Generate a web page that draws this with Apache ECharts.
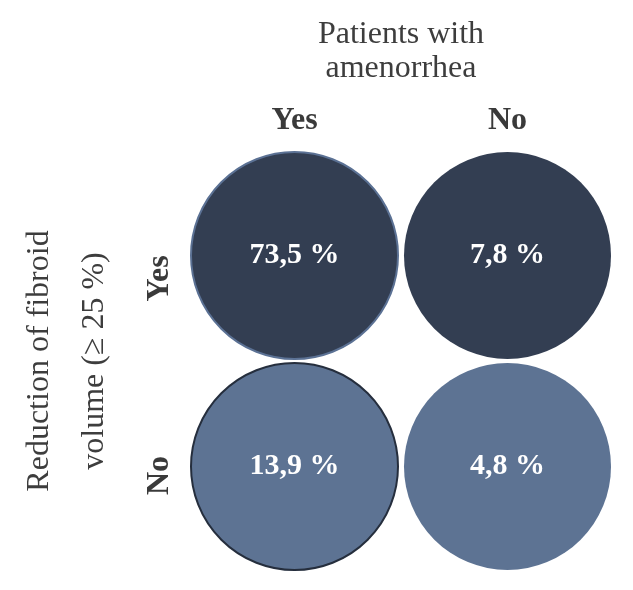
<!DOCTYPE html>
<html>
<head>
<meta charset="utf-8">
<script src="https://cdn.jsdelivr.net/npm/echarts@6/dist/echarts.min.js"></script>
<style>
  html, body { margin: 0; padding: 0; background: #fff; }
</style>
</head>
<body>
<!-- chart container -->
<div id="main" style="width: 633px; height: 590px;"></div>
<script>
// amenorrhea (columns) x fibroid volume reduction (rows)
var amenorrhea = ['Yes', 'No']
var reduction = ['Yes', 'No']
var shares = [
  [73.5, 7.8],
  [13.9, 4.8]
]
var rowColors = ['#333e52', '#5d7393']

var serif = '"Liberation Serif", "DejaVu Serif", serif'

var points = []
for (var r = 0; r < reduction.length; r++) {
  for (var c = 0; c < amenorrhea.length; c++) {
    var item = {
      value: [amenorrhea[c], reduction[r], shares[r][c]],
      itemStyle: { color: rowColors[r], opacity: 1 }
    }
    // the two left circles have an outline in the reference
    if (r === 0 && c === 0) {
      item.itemStyle.borderColor = '#5b7194'
      item.itemStyle.borderWidth = 2
    }
    if (r === 1 && c === 0) {
      item.itemStyle.borderColor = '#252e3d'
      item.itemStyle.borderWidth = 2
    }
    points.push(item)
  }
}

var rowLabel = { fontFamily: serif, fontSize: 32, fontWeight: 'bold', color: '#3a3a3a' }

var option = {
  animation: false,
  grid: { left: 188, top: 150, width: 426, height: 422, containLabel: false, outerBoundsMode: 'none' },
  xAxis: {
    type: 'category',
    data: amenorrhea,
    position: 'top',
    name: 'Patients with\namenorrhea',
    nameLocation: 'middle',
    nameGap: 64,
    nameTextStyle: { fontFamily: serif, fontSize: 32, color: '#3d3d3d', lineHeight: 34 },
    axisLine: { show: false },
    axisTick: { show: false },
    splitLine: { show: false },
    axisLabel: { fontFamily: serif, fontSize: 32, fontWeight: 'bold', color: '#3a3a3a', margin: 13 }
  },
  yAxis: {
    type: 'category',
    data: reduction,
    inverse: true,
    name: 'Reduction of fibroid\nvolume (\u2265 25 %)',
    nameLocation: 'middle',
    nameRotate: 90,
    nameGap: 66,
    nameTextStyle: { fontFamily: serif, fontSize: 32, color: '#3d3d3d', lineHeight: 55 },
    axisLine: { show: false },
    axisTick: { show: false },
    splitLine: { show: false },
    axisLabel: {
      rotate: 90,
      margin: 12,
      // the row labels sit a little below the circle centres in the reference
      formatter: function (v, i) {
        return (i === 0 ? '{a|' : '{b|') + v + '}'
      },
      rich: {
        a: Object.assign({ padding: [0, 46, 0, 0] }, rowLabel),
        b: Object.assign({ padding: [0, 18, 0, 0] }, rowLabel)
      }
    }
  },
  series: [{
    type: 'scatter',
    symbol: 'circle',
    symbolSize: 207,
    data: points,
    emphasis: { disabled: true },
    label: {
      show: true,
      position: 'inside',
      fontFamily: serif,
      fontSize: 30,
      fontWeight: 'bold',
      color: '#ffffff',
      formatter: function (p) {
        return String(p.value[2]).replace('.', ',') + ' %'
      }
    }
  }]
}

var chart = echarts.init(document.getElementById('main'))
chart.setOption(option)
</script>
</body>
</html>
